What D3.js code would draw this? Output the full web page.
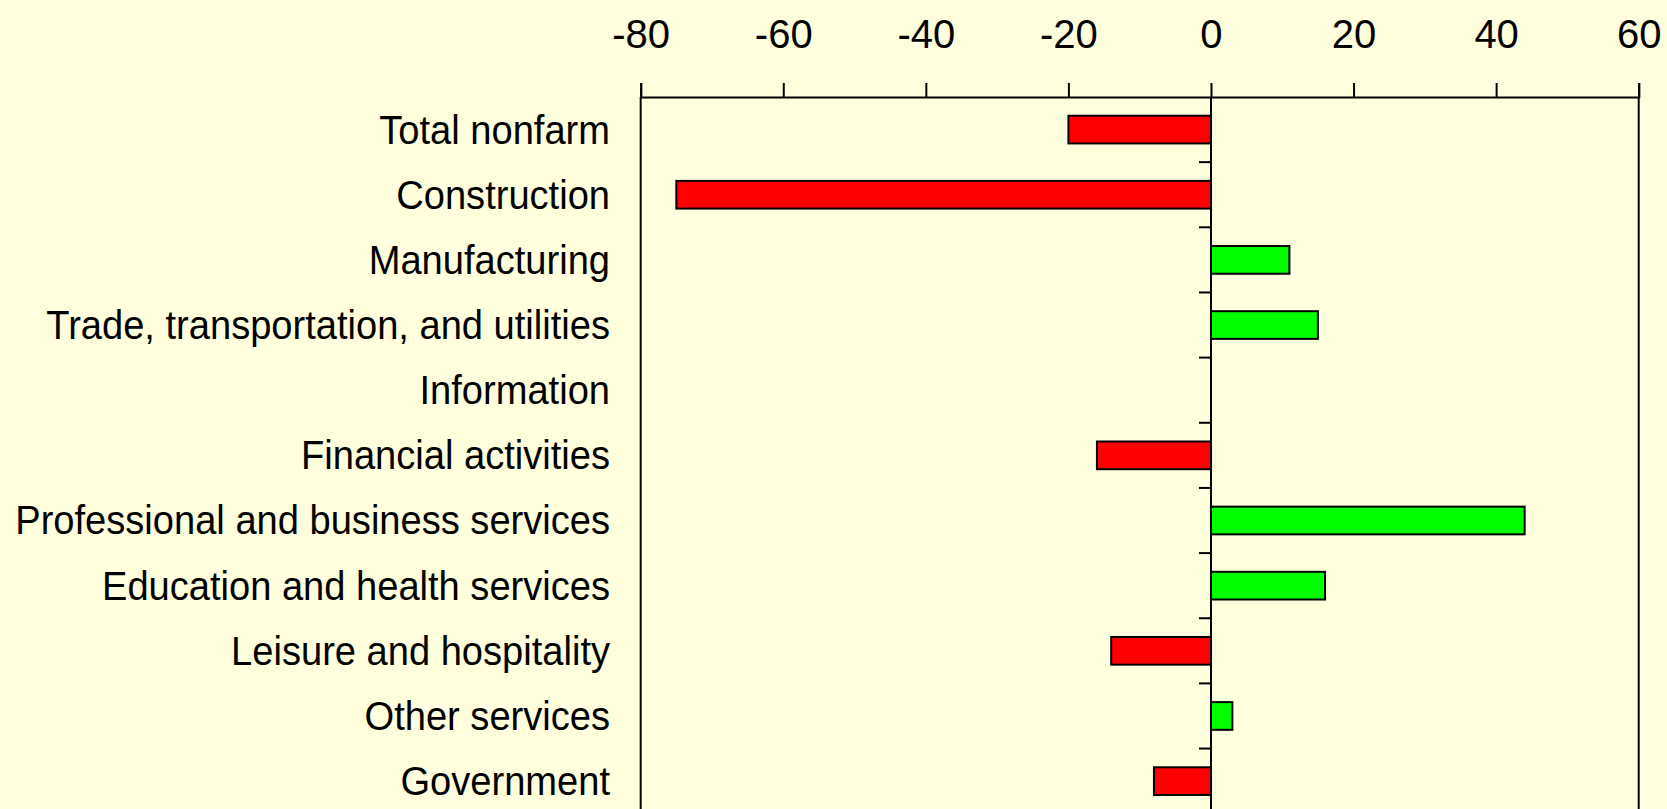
<!DOCTYPE html>
<html><head><meta charset="utf-8">
<script src="https://cdn.jsdelivr.net/npm/d3@7"></script>
<style>html,body{margin:0;padding:0;background:#ffffdd;overflow:hidden}</style>
</head><body><svg id="c" width="1667" height="809"></svg>
<script>
const categories = ["Total nonfarm","Construction","Manufacturing","Trade, transportation, and utilities","Information","Financial activities","Professional and business services","Education and health services","Leisure and hospitality","Other services","Government"];
const values = [-20,-75,11,15,0,-16,44,16,-14,3,-8];
const xTicks = [-80,-60,-40,-20,0,20,40,60];

(function () {
const svg = d3.select("#c");
const W = 1667, H = 809;
svg.append("rect").attr("width", W).attr("height", H).attr("fill", "#ffffdd");

const plotTop = 97, plotBottom = 813.7;
const x = d3.scaleLinear().domain([-80, 60]).range([640.7, 1638.7]);
const y = d3.scaleBand().domain(categories).range([plotTop, plotBottom]).paddingInner(0.575).paddingOuter(0.2875);
const step = y.step(), bw = y.bandwidth();

// frame left / right
svg.append("line").attr("x1", x(-80)).attr("x2", x(-80)).attr("y1", plotTop).attr("y2", plotBottom)
  .attr("stroke", "#000").attr("stroke-width", 2);
svg.append("line").attr("x1", x(60)).attr("x2", x(60)).attr("y1", plotTop).attr("y2", plotBottom)
  .attr("stroke", "#000").attr("stroke-width", 2);

// top axis
const ax = svg.append("g").attr("transform", `translate(0,${plotTop})`)
  .call(d3.axisTop(x).tickValues(xTicks).tickFormat(d3.format("d")).tickSize(14).tickSizeOuter(14).tickPadding(35));
ax.select(".domain").attr("stroke", "#000").attr("stroke-width", 2);
ax.selectAll(".tick line").attr("stroke", "#000").attr("stroke-width", 2);
ax.selectAll(".tick text").attr("font-family", "Liberation Sans, Arial, sans-serif")
  .attr("font-size", 40).attr("fill", "#000").text(d => d < 0 ? "-" + Math.abs(d) : d);

// bars
svg.append("g").selectAll("rect").data(categories.map((c, i) => ({c, v: values[i]})).filter(d => d.v !== 0))
  .join("rect")
  .attr("x", d => x(Math.min(0, d.v)))
  .attr("y", d => y(d.c))
  .attr("width", d => Math.abs(x(d.v) - x(0)))
  .attr("height", bw)
  .attr("fill", d => d.v < 0 ? "#ff0000" : "#00ff00")
  .attr("stroke", "#000").attr("stroke-width", 2);

// zero line with category ticks
svg.append("line").attr("x1", x(0)).attr("x2", x(0)).attr("y1", plotTop).attr("y2", plotBottom)
  .attr("stroke", "#000").attr("stroke-width", 2);
svg.append("g").selectAll("line").data(categories.slice(1))
  .join("line")
  .attr("x1", x(0) - 12).attr("x2", x(0))
  .attr("y1", d => y(d) - (step - bw) / 2).attr("y2", d => y(d) - (step - bw) / 2)
  .attr("stroke", "#000").attr("stroke-width", 2);

// category labels
const lg = svg.append("g").attr("transform", "translate(610,0) scale(0.952,1)");
lg.selectAll("text").data(categories).join("text")
  .attr("x", 0).attr("y", d => y(d) + bw / 2).attr("dy", "0.35em")
  .attr("text-anchor", "end")
  .attr("font-family", "Liberation Sans, Arial, sans-serif").attr("font-size", 40).attr("fill", "#000")
  .text(d => d);
})();
</script></body></html>
